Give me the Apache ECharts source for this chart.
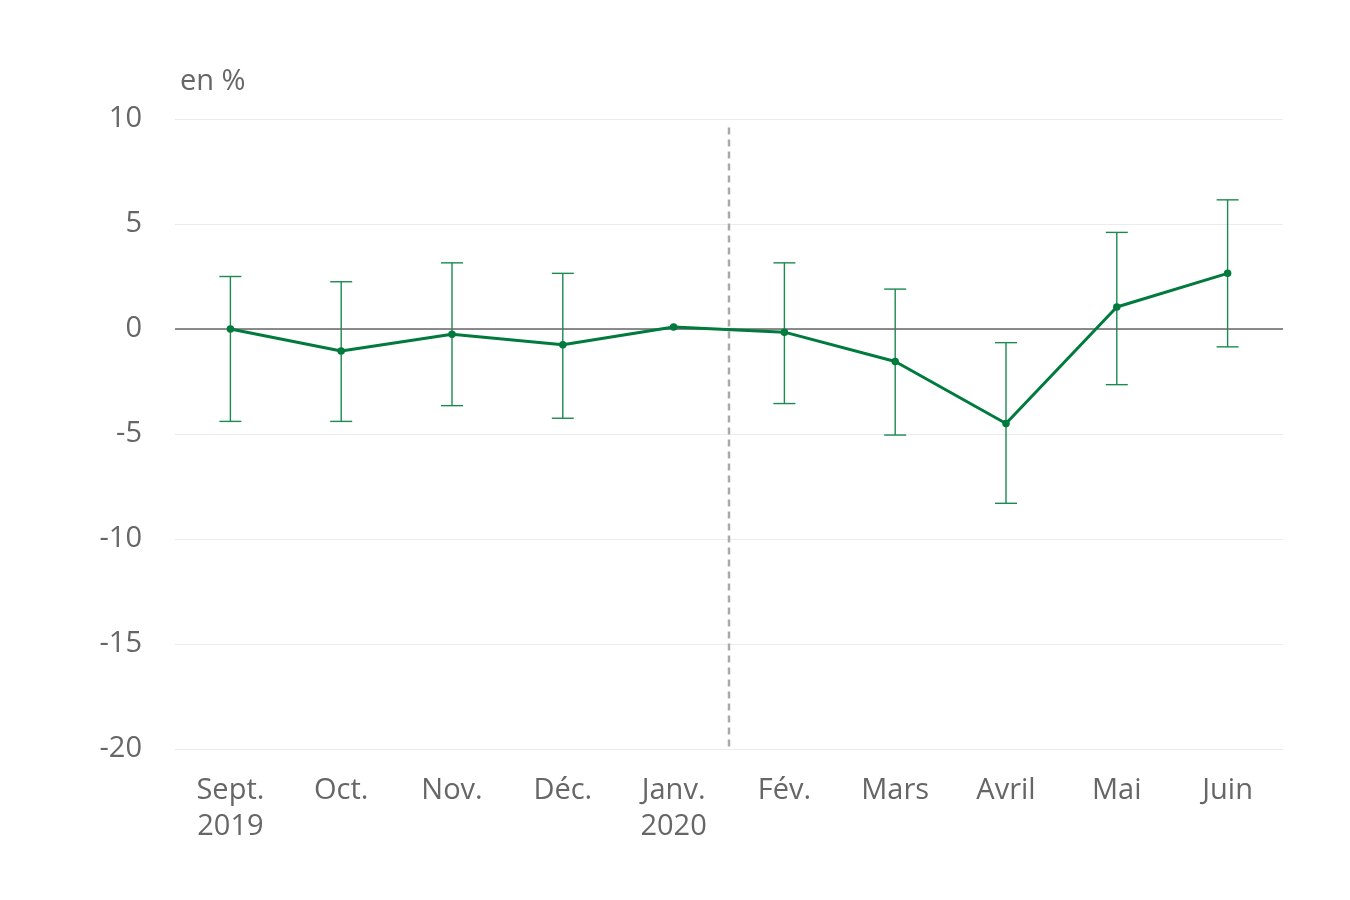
<!DOCTYPE html>
<html><head><meta charset="utf-8">
<script src="https://cdn.jsdelivr.net/npm/echarts@6/dist/echarts.min.js"></script>
<style>html,body{margin:0;padding:0;background:#fff}#c{width:1350px;height:900px}</style>
</head><body><div id="c"></div>
<script>
const categories = ['Sept.\n2019','Oct.','Nov.','Déc.','Janv.\n2020','Fév.','Mars','Avril','Mai','Juin'];
const values = [0, -1.05, -0.25, -0.75, 0.1, -0.15, -1.55, -4.5, 1.05, 2.65];
const upper = [2.5, 2.25, 3.15, 2.65, null, 3.15, 1.9, -0.65, 4.6, 6.15];
const lower = [-4.4, -4.4, -3.65, -4.25, null, -3.55, -5.05, -8.3, -2.65, -0.85];
const yTicks = { min: -20, max: 10, interval: 5 };
const unitLabel = 'en %';

const green = '#007a3d';
const errColor = '#1b8a50';
const errData = categories.map((c, i) => [i, lower[i], upper[i]]).filter(d => d[1] !== null);

const chart = echarts.init(document.getElementById('c'));
chart.setOption({
  animation: false,
  grid: { left: 175, right: 67, top: 119, bottom: 151 },
  graphic: [{ type: 'text', left: 180, top: 67, style: { text: unitLabel, font: '29px "Open Sans"', fill: '#666' } }],
  xAxis: {
    type: 'category', data: categories, boundaryGap: true,
    axisLine: { show: false }, axisTick: { show: false },
    axisLabel: { color: '#666', fontFamily: 'Open Sans', fontSize: 29, margin: 24, lineHeight: 36 }
  },
  yAxis: {
    type: 'value', min: yTicks.min, max: yTicks.max, interval: yTicks.interval,
    axisLine: { show: false }, axisTick: { show: false },
    axisLabel: { color: '#666', fontFamily: 'Open Sans', fontSize: 29, margin: 33 },
    splitLine: { lineStyle: { color: '#ebebeb', width: 1 } }
  },
  series: [
    {
      type: 'custom', z: 3, silent: true,
      data: [[4]],
      renderItem: function (params, api) {
        const a = api.coord([4, 0]);
        const b = api.coord([5, 0]);
        const x = (a[0] + b[0]) / 2;
        const top = api.coord([4, 9.6])[1];
        const bot = api.coord([4, -20.1])[1];
        return { type: 'line', shape: { x1: x, y1: top, x2: x, y2: bot },
          style: { stroke: '#aaaaaa', lineWidth: 2.5, lineDash: [7, 5] } };
      }
    },
    {
      type: 'custom', z: 4, silent: true,
      data: errData,
      encode: { x: 0, y: [1, 2] },
      renderItem: function (params, api) {
        const i = api.value(0);
        const lo = api.coord([i, api.value(1)]);
        const hi = api.coord([i, api.value(2)]);
        const hw = 11;
        const st = { stroke: errColor, lineWidth: 1.4, fill: null };
        return { type: 'group', children: [
          { type: 'line', shape: { x1: lo[0], y1: lo[1], x2: hi[0], y2: hi[1] }, style: st },
          { type: 'line', shape: { x1: lo[0] - hw, y1: lo[1], x2: lo[0] + hw, y2: lo[1] }, style: st },
          { type: 'line', shape: { x1: hi[0] - hw, y1: hi[1], x2: hi[0] + hw, y2: hi[1] }, style: st }
        ] };
      }
    },
    {
      type: 'line', z: 5, data: values,
      symbol: 'circle', symbolSize: 7.5,
      itemStyle: { color: green },
      lineStyle: { color: green, width: 3 },
      markLine: {
        silent: true, symbol: 'none', label: { show: false },
        lineStyle: { color: '#666', width: 1.5, type: 'solid' },
        data: [{ yAxis: 0 }]
      }
    }
  ]
});
</script></body></html>
